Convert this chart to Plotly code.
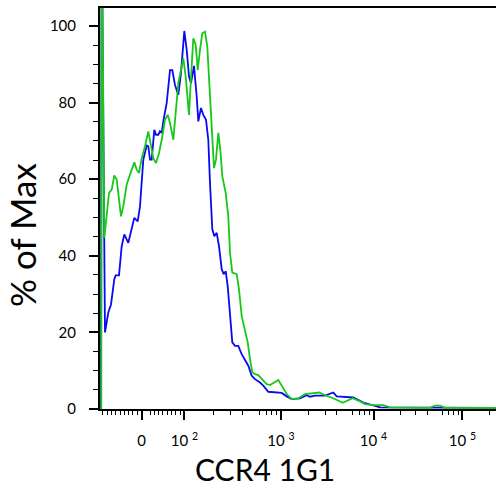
import numpy as np
import plotly.graph_objects as go

# Histogram curves: x in display channels (axis spans 0-990), y in % of max
blue_ch = [2.5, 4.0, 12.5, 20.75, 27.5, 35.75, 39.25, 47.5, 54.25, 60.75, 70.75, 77.5,
           85.75, 94.25, 100, 108.25, 116.75, 120.75, 125, 129.25, 135.75, 140, 145.75,
           150, 154.25, 158.25, 166.75, 175, 180.75, 187.5, 195.75, 202.5, 210.75,
           216.75, 222.5, 227.5, 235, 241.75, 245.75, 252.5, 258.25, 265, 270.75, 275,
           280.75, 285.75, 291.75, 297.5, 304.25, 309.25, 314.25, 319.25, 325, 330.75,
           337.5, 345.75, 354.25, 362.5, 370.75, 379.25, 387.5, 400, 408.25, 420.75,
           437.5, 454.25, 466.75, 479.25, 500, 516.75, 525, 537.5, 562.5, 583.25,
           591.75, 633.25, 658.25, 670.75, 683.25, 700, 990]
blue_pct = [0, 130, 20.0, 25.2, 27.3, 33.9, 34.9, 34.9, 42.5, 45.6, 43.4, 46.0,
            49.9, 49.0, 52.9, 65.1, 68.8, 68.6, 65.1, 65.1, 72.9, 71.6, 71.6,
            72.5, 72.1, 75.1, 79.9, 88.5, 88.5, 84.6, 82.0, 87.7, 98.7,
            93.75, 86.8, 85.1, 89.6, 81.6, 75.1, 78.6, 76.8, 75.5, 70.3, 59.0,
            46.9, 45.1, 46.0, 42.5, 36.5, 35.2, 36.0, 32.1, 23.4, 17.4,
            16.5, 16.5, 14.3, 12.6, 11.3, 8.7, 7.8, 6.9, 6.1, 4.5,
            4.3, 4.2, 3.3, 2.6, 2.8, 3.6, 3.2, 3.5, 3.5, 4.3,
            3.3, 3.0, 1.7, 1.3, 0.9, 0.4, 0.3]

green_ch = [3.25, 4.5, 10.75, 16.75, 22.5, 29.25, 35.75, 41.75, 47.5, 52.5, 58.25,
            66.75, 75, 85.75, 91.75, 97.5, 104.25, 112.5, 120.75, 127.5, 133.25, 140,
            147.5, 154.25, 162.5, 169.25, 175, 183.25, 189.25, 195.75, 202.5, 208.25,
            214.25, 218.25, 222.5, 226.75, 233.25, 239.25, 244.25, 250, 255.75, 262.5,
            268.25, 273.25, 279.25, 285, 290, 295.75, 300.75, 305.75, 314.25, 320.75,
            325, 330.75, 341.75, 347.5, 354.25, 360.75, 369.25, 375, 380.75, 387.5,
            395.75, 408.25, 416.75, 425, 437.5, 445.75, 454.25, 466.75, 479.25, 495.75,
            512.5, 533.25, 548.25, 562.5, 583.25, 606.75, 631.75, 645.75, 662.5,
            683.25, 708.25, 725, 825, 837.5, 850, 862.5, 990]
green_pct = [0, 130, 44.7, 51.2, 56.4, 57.3, 61.0, 59.9, 53.8, 50.3, 52.9,
             58.6, 61.2, 64.4, 62.5, 61.6, 65.5, 68.6, 72.5, 68.6, 65.5, 64.2,
             66.8, 70.3, 75.5, 76.8, 74.7, 70.3, 78.1, 85.1, 88.5, 91.6,
             86.8, 80.7, 76.8, 85.1, 96.8, 95.1, 88.5, 93.75, 98.1, 98.5,
             94.6, 85.1, 73.8, 62.9, 65.1, 72.1, 67.7, 60.8, 56.4, 50.3,
             40.8, 35.6, 35.2, 31.25, 24.3, 21.3, 17.4, 13.0, 9.6, 9.1,
             8.85, 7.4, 6.5, 6.25, 7.1, 7.55, 6.1, 3.9, 2.6, 2.8,
             3.9, 4.2, 4.3, 3.6, 2.8, 1.6, 2.8, 2.2, 1.3,
             1.0, 1.0, 0.4, 0.3, 0.9, 0.9, 0.3, 0.3]

# Logicle-style display scale: linear around zero, logarithmic per decade above 100
zero_channel = 103.75
decade_values = [1e2, 1e3, 1e4, 1e5]
decade_channels = [211.0, 452.5, 683.75, 906.0]

major_values = [0, 1e2, 1e3, 1e4, 1e5]
major_labels = ["0", "10 <sup>2</sup>", "10 <sup>3</sup>", "10 <sup>4</sup>", "10 <sup>5</sup>"]
mid_values = [5e2, 5e3, 5e4]
minor_values = ([-v for v in range(10, 101, 10)] + list(range(20, 100, 10))
                + [m * 10 ** e for e in (2, 3, 4) for m in (2, 3, 4, 6, 7, 8, 9)]
                + [2e5])

y_major = [0, 20, 40, 60, 80, 100]
y_minor = [v for v in range(0, 105, 5) if v % 20]

x_title = "CCR4 1G1"
y_title = "% of Max"


def to_channel(v):
    if abs(v) <= 100:
        return zero_channel + v * (decade_channels[0] - zero_channel) / 100
    logs = np.log10(decade_values)
    lv = np.log10(v)
    if lv <= logs[-1]:
        return float(np.interp(lv, logs, decade_channels))
    step = decade_channels[-1] - decade_channels[-2]
    return decade_channels[-1] + (lv - logs[-1]) * step


FONT = "Lato, 'Open Sans', sans-serif"
X_RANGE = [0, 990]
Y_RANGE = [0, 104.7]

fig = go.Figure()
fig.add_trace(go.Scatter(x=blue_ch, y=blue_pct, mode="lines",
                         line=dict(color="#0a0af0", width=1.8), showlegend=False))
fig.add_trace(go.Scatter(x=green_ch, y=green_pct, mode="lines",
                         line=dict(color="#18c818", width=1.8), showlegend=False))

fig.update_layout(
    width=496, height=489,
    margin=dict(l=100, r=0, t=8, b=80),
    paper_bgcolor="white", plot_bgcolor="white",
    font=dict(family=FONT, color="black", size=15),
    xaxis=dict(
        range=X_RANGE, showgrid=False, zeroline=False,
        showline=True, linecolor="black", linewidth=2, mirror=True,
        tickmode="array",
        tickvals=[to_channel(v) for v in major_values], ticktext=major_labels,
        ticks="outside", ticklen=9, tickwidth=1.5, tickcolor="black",
        ticklabelstandoff=8,
        minor=dict(tickmode="array", tickvals=[to_channel(v) for v in minor_values],
                   ticks="outside", ticklen=4, tickwidth=1.2, tickcolor="black"),
        automargin=False,
    ),
    xaxis2=dict(
        range=X_RANGE, overlaying="x", matches="x", anchor="y", side="bottom",
        showgrid=False, zeroline=False, showline=False, showticklabels=False,
        tickmode="array", tickvals=[to_channel(v) for v in mid_values],
        ticks="outside", ticklen=6.5, tickwidth=1.3, tickcolor="black",
    ),
    yaxis=dict(
        range=Y_RANGE, showgrid=False, zeroline=False,
        showline=True, linecolor="black", linewidth=2, mirror=False,
        tickmode="array", tickvals=y_major,
        ticks="outside", ticklen=9, tickwidth=1.5, tickcolor="black",
        ticklabelstandoff=10,
        minor=dict(tickmode="array", tickvals=y_minor,
                   ticks="outside", ticklen=5, tickwidth=1.2, tickcolor="black"),
        automargin=False,
    ),
    annotations=[
        dict(text=x_title, xref="paper", yref="paper", x=(265 - 100) / 396,
             y=-(488 - 409) / 401, xanchor="center", yanchor="bottom",
             showarrow=False, font=dict(size=30), borderpad=0),
        dict(text=y_title, xref="paper", yref="paper", x=-(100 - 22) / 396,
             y=(409 - 235) / 401, xanchor="center", yanchor="middle",
             textangle=-90, showarrow=False, font=dict(size=35)),
    ],
)

fig.write_html("out.html")
